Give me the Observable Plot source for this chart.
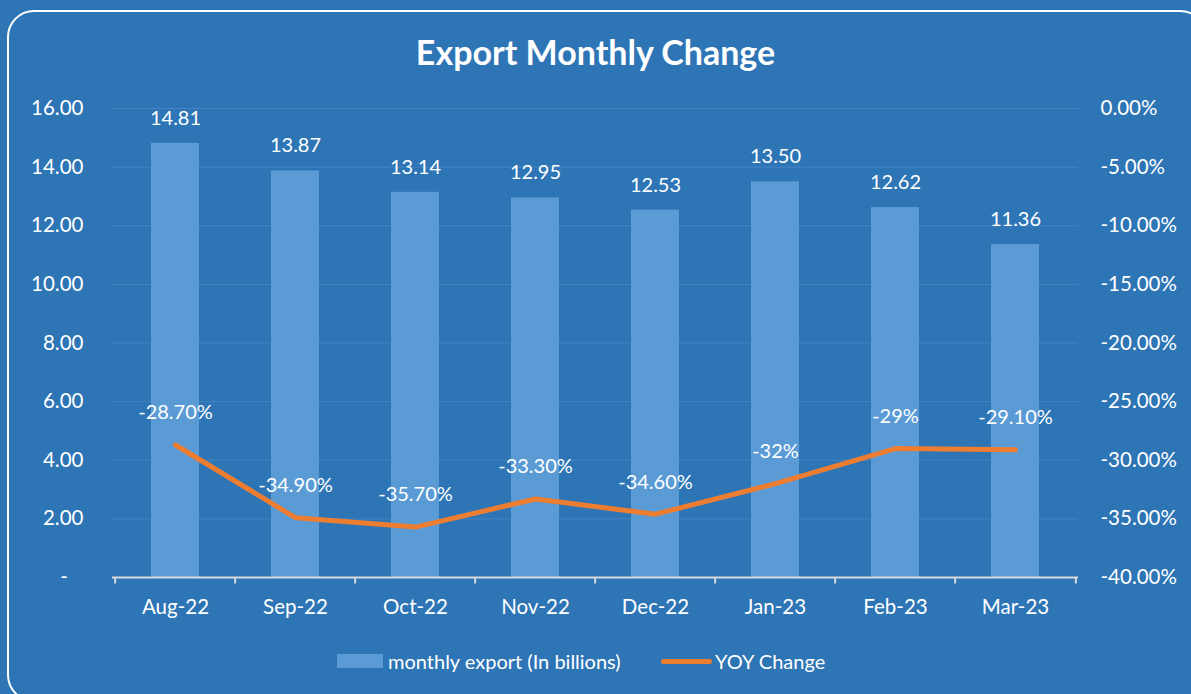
<!DOCTYPE html>
<html><head><meta charset="utf-8">
<script src="https://cdn.jsdelivr.net/npm/d3@7"></script>
<script src="https://cdn.jsdelivr.net/npm/@observablehq/plot@0.6"></script>
<style>
html,body{margin:0;padding:0;background:#2E75B6;width:1191px;height:694px;overflow:hidden;font-family:Lato,"Open Sans",sans-serif;}
#frame{position:absolute;left:7px;top:10px;width:1200px;height:692px;border:2px solid #fff;border-radius:27px;box-sizing:border-box;}
#title{position:absolute;top:32px;left:0;width:1191px;text-align:center;color:#fff;font-weight:bold;font-size:34px;line-height:40px;}
#chart{position:absolute;left:0;top:0;}
.lg{position:absolute;color:#fff;font-size:20px;line-height:24px;top:649px;white-space:nowrap;}
.sw{position:absolute;}
</style></head>
<body>
<div id="frame"></div>
<div id="chart"></div>
<div id="title">Export Monthly Change</div>
<div class="sw" style="left:337px;top:654px;width:46px;height:14px;background:#5B9BD5"></div>
<div class="lg" style="left:388px">monthly export (In billions)</div>
<div class="sw" style="left:661px;top:659px;width:51px;height:5px;border-radius:3px;background:#ED7D31"></div>
<div class="lg" style="left:715px">YOY Change</div>
<script>
const months = ["Aug-22","Sep-22","Oct-22","Nov-22","Dec-22","Jan-23","Feb-23","Mar-23"];
const monthlyExport = [14.81,13.87,13.14,12.95,12.53,13.50,12.62,11.36];
const exportLabels = ["14.81","13.87","13.14","12.95","12.53","13.50","12.62","11.36"];
const yoyChange = [-28.70,-34.90,-35.70,-33.30,-34.60,-32,-29,-29.10];
const yoyLabels = ["-28.70%","-34.90%","-35.70%","-33.30%","-34.60%","-32%","-29%","-29.10%"];
const leftTicks = [0,2,4,6,8,10,12,14,16];
const rightTicks = [0,-5,-10,-15,-20,-25,-30,-35,-40];

const W = 1191, H = 694, mL = 112, mR = 113, mT = 108, mB = 117;
const step = (W - mL - mR) / months.length;
// secondary axis [-40,0] mapped onto primary [0,16]
const toLeft = p => (p + 40) * 16 / 40;
const rightLabelMap = new Map(rightTicks.map(p => [toLeft(p), p.toFixed(2) + "%"]));

const data = months.map((m, i) => ({month: m, exp: monthlyExport[i], expLabel: exportLabels[i], yoy: yoyChange[i], yoyLabel: yoyLabels[i]}));

const chart = Plot.plot({
  width: W, height: H,
  marginLeft: mL, marginRight: mR, marginTop: mT, marginBottom: mB,
  style: {background: "transparent", color: "#fff", fontSize: "20px", fontFamily: "Lato, 'Open Sans', sans-serif"},
  x: {domain: months, paddingInner: 0.6, paddingOuter: 0.3, label: null},
  y: {domain: [0, 16], label: null},
  marks: [
    Plot.gridY(leftTicks.filter(d => d > 0), {stroke: "#4483C2", strokeOpacity: 1, strokeWidth: 1}),
    Plot.axisY(leftTicks, {anchor: "left", tickSize: 0, tickPadding: 29, label: null, fontSize: 20.5,
      tickFormat: d => d === 0 ? "-\u00a0\u00a0\u00a0" : d.toFixed(2)}),
    Plot.axisY(rightTicks.map(toLeft), {anchor: "right", tickSize: 0, tickPadding: 22, label: null, fontSize: 20.5,
      tickFormat: d => rightLabelMap.get(d)}),
    Plot.barY(data, {x: "month", y: "exp", fill: "#5B9BD5"}),
    Plot.ruleY([0], {stroke: "#D9D9D9", strokeWidth: 2}),
    Plot.ruleX(data, {x: "month", y1: 0, y2: -0.22, dx: -step / 2, stroke: "#D9D9D9", strokeWidth: 2}),
    Plot.ruleX(data.slice(-1), {x: "month", y1: 0, y2: -0.22, dx: step / 2, stroke: "#D9D9D9", strokeWidth: 2}),
    Plot.axisX({tickSize: 0, tickPadding: 22, label: null, fontSize: 20.5}),
    Plot.text(data, {x: "month", y: "exp", text: "expLabel", dy: -25, fill: "#fff", fontSize: 20}),
    Plot.line(data, {x: "month", y: d => toLeft(d.yoy), stroke: "#ED7D31", strokeWidth: 5, strokeLinecap: "round", strokeLinejoin: "round"}),
    Plot.text(data, {x: "month", y: d => toLeft(d.yoy), text: "yoyLabel", dy: -32, fill: "#fff", fontSize: 20})
  ]
});
document.getElementById("chart").appendChild(chart);
</script>
</body></html>
